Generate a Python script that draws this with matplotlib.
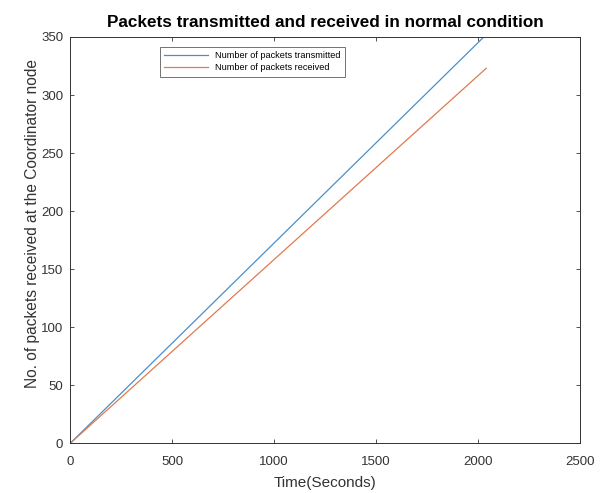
import matplotlib
matplotlib.use("Agg")
import matplotlib.pyplot as plt

time_s = [0, 2040]
transmitted = [0, 352]
received = [0, 323]
x_ticks = [0, 500, 1000, 1500, 2000, 2500]
y_ticks = [0, 50, 100, 150, 200, 250, 300, 350]

plt.rcParams['font.family'] = ['Liberation Sans', 'DejaVu Sans']
fig = plt.figure(figsize=(6.01, 4.93), dpi=100)
ax = fig.add_axes([0.117, 0.101, 0.848, 0.824])
ax.plot(time_s, transmitted, color='#4a8fc8', lw=0.9, label='Number of packets transmitted')
ax.plot(time_s, received, color='#e07a50', lw=0.9, label='Number of packets received')
ax.set_xlim(0, 2500)
ax.set_ylim(0, 350)
ax.set_xticks(x_ticks)
ax.set_yticks(y_ticks)
ax.tick_params(direction='in', top=True, right=True, labelsize=9.5, colors='#333333', length=3, width=0.6, pad=5)
ax.tick_params(axis='x', pad=9)
for s in ax.spines.values():
    s.set_color('#333333')
    s.set_linewidth(0.7)
ax.set_xlabel('Time(Seconds)', fontsize=11, color='#333333', labelpad=6)
ax.set_ylabel('No. of packets received at the Coordinator node', fontsize=11.2, color='#333333', labelpad=1)
ax.yaxis.set_label_coords(-0.06, 0.54)
ax.set_title('Packets transmitted and received in normal condition', fontsize=12.3, fontweight='bold', pad=7)
leg = ax.legend(loc='upper left', bbox_to_anchor=(0.175, 0.975), fontsize=6.6, frameon=True, fancybox=False,
                edgecolor='#333333', borderpad=0.45, labelspacing=0.35, handlelength=4.8, handletextpad=0.8,
                borderaxespad=0)
leg.get_frame().set_linewidth(0.6)
fig.savefig('out.png', dpi=100)
